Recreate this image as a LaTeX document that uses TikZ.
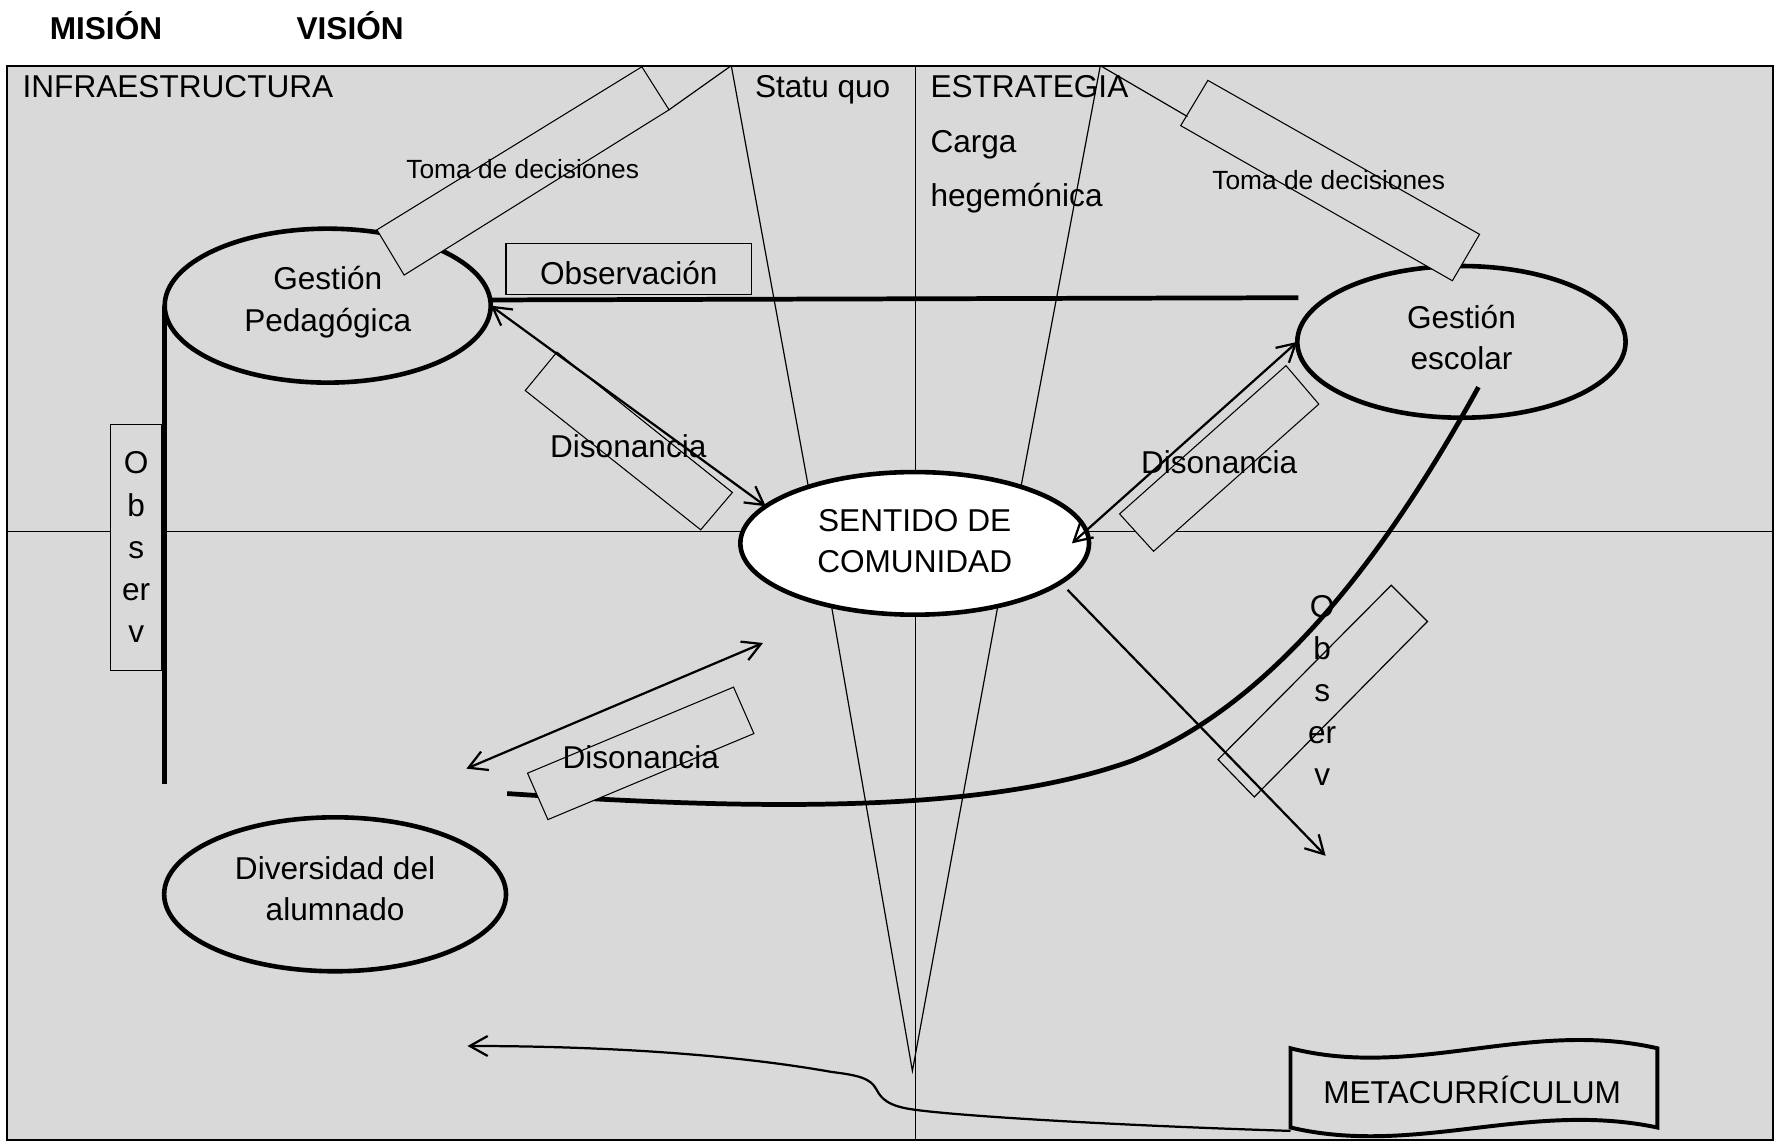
\documentclass[tikz,border=0pt]{standalone}
\usepackage{fontspec}
\setmainfont{Liberation Sans}
\usetikzlibrary{arrows.meta,shapes.geometric}
\definecolor{bgray}{RGB}{217,217,217}
\begin{document}
\begin{tikzpicture}[x=0.43pt,y=-0.43pt,
  every node/.style={inner sep=0pt, outer sep=0pt},
  txt/.style={font=\fontsize{12}{16}\selectfont},
  small/.style={font=\fontsize{10}{12}\selectfont},
  oval/.style={ellipse, draw, line width=1.75pt, fill=bgray, align=center, font=\fontsize{12}{15.8}\selectfont},
  thinbox/.style={draw, line width=0.4pt, fill=bgray},
  thinln/.style={line width=0.45pt},
  thickln/.style={line width=1.8pt},
  arr/.style={line width=0.85pt, -{Straight Barb[length=6.8pt,width=7.6pt]}},
  darr/.style={line width=0.85pt, {Straight Barb[length=6.8pt,width=7.6pt]}-{Straight Barb[length=6.8pt,width=7.6pt]}},
]
\useasboundingbox (0,0) rectangle (1568,1011.4);

% frame and quadrants
\draw[fill=bgray, line width=0.8pt] (6,58) rectangle (1566,1007);
\draw[thinln] (808.5,58) -- (808.5,1007);
\draw[thinln] (6,469.5) -- (1566,469.5);

% header
\node[anchor=base west, font=\bfseries\fontsize{12}{14}\selectfont] (mision) at (44,35) {MISIÓN};
\node[anchor=base west, font=\bfseries\fontsize{12}{14}\selectfont] (vision) at (262,35) {VISIÓN};

% corner texts
\node[txt, anchor=base west] (infra) at (20,86) {INFRAESTRUCTURA};
\node[txt, anchor=base west] (statu) at (667,86) {Statu quo};
\node[txt, anchor=base west] (estr) at (822,86) {ESTRATEGIA};
\node[txt, anchor=base west] (carga) at (822,135) {Carga};
\node[txt, anchor=base west] (hege) at (822,182) {hegemónica};

% ellipses
\node[oval, text depth=5.1pt, minimum width=288*0.43pt, minimum height=136*0.43pt] (gped) at (289.5,270) {Gestión\\Pedagógica};
\node[oval, text depth=3.4pt, minimum width=290*0.43pt, minimum height=134*0.43pt] (gesc) at (1291,302) {Gestión\\escolar};
\node[oval, text depth=1.7pt, fill=white, minimum width=308*0.43pt, minimum height=126*0.43pt] (sent) at (808,480) {SENTIDO DE\\COMUNIDAD};
\node[oval, text depth=4.3pt, minimum width=302*0.43pt, minimum height=136*0.43pt] (div) at (296,790) {Diversidad del\\alumnado};

% funnel lines
\coordinate (sq) at (646,58);
\coordinate (es) at (972,58);
\coordinate (apex) at (806,946);
\draw[thinln] (sq) -- (sent.152);
\draw[thinln] (es) -- (sent.28);
\draw[thinln] (sent.217) -- (apex) -- (sent.323);

% thick curve from Gestion escolar (under the Disonancia box)
\coordinate (cS) at (1306,342);
\coordinate (cE) at (448,701);
\draw[thickln] (cS) .. controls (1230,480) and (1130,620) .. (1000,672) .. controls (880,715) and (700,718) .. (cE);

% rotated boxes
\draw[thinbox] (333,203) -- (357,243) -- (591,97) -- (567,59) -- cycle;
\draw[thinln] (591,97) -- (sq);
\draw[thinbox] (1067,71) -- (1043,111) -- (1283,248) -- (1307,207) -- cycle;
\draw[thinln] (es) -- (1049,103);
\draw[thinbox] (492,311) -- (464,345) -- (619,468) -- (647,435) -- cycle;
\draw[thinbox] (1136,323) -- (1165,357) -- (1019,487) -- (989,454) -- cycle;
\draw[thinbox] (466,683) -- (484,724) -- (666,648) -- (648,607) -- cycle;
\draw[thinln] (1229,517) -- (1261,549) -- (1108,704) -- (1076,671) -- cycle;

% Observacion box
\node[thinbox, minimum width=217*0.43pt, minimum height=45*0.43pt] (obsbox) at (555.5,237.5) {};
\node[txt, anchor=base] (obstxt) at (555.5,251) {Observación};

% left Observ box
\node[thinbox, minimum width=45*0.43pt, minimum height=217.4*0.43pt, align=center, font=\fontsize{12}{16}\selectfont] (obsL) at (120.3,483.3) {O\\b\\s\\er\\v};

% labels
\node[small, anchor=base west] (td1) at (359,158) {Toma de decisiones};
\node[small, anchor=base west] (td2) at (1071,167) {Toma de decisiones};
\node[txt, anchor=base] (dis1) at (555,404) {Disonancia};
\node[txt, anchor=base] (dis2) at (1077,418) {Disonancia};
\node[txt, anchor=base] (dis3) at (566,679) {Disonancia};
\node[txt, align=center] (obsR) at (1168,610) {O\\b\\s\\er\\v};

% thick lines
\coordinate (obsEnd) at (1147,263);
\draw[thickln] (obsEnd) -- (gped.2);
\coordinate (vlb) at (146,693);
\draw[thickln] (gped.west) -- (gped.west |- vlb);

% arrows
\draw[darr] (gped.east) -- (sent.166);
\draw[darr] ([xshift=-6.5pt]sent.east) -- (gesc.west);
\coordinate (a3s) at (943,521);
\coordinate (a3e) at (1171,756);
\draw[arr] (a3s) -- (a3e);
\coordinate (d3a) at (412,679);
\coordinate (d3b) at (674,568);
\draw[darr] (d3a) -- (d3b);

% METACURRICULUM banner
\draw[line width=1.5pt, fill=bgray] (1140,926) .. controls (1250,954) and (1350,900) .. (1464,926) -- (1464,996) .. controls (1350,972) and (1250,1022) .. (1140,996) -- cycle;
\node[txt, anchor=base] (meta) at (1300.5,975) {METACURRÍCULUM};
\coordinate (metaBL) at (1140,999);
\coordinate (bArr) at (413,924);
\draw[arr] (metaBL) .. controls (980,994) and (830,985) .. (800,979) .. controls (780,975) and (777,967) .. (774,962) .. controls (769,953) and (760,950) .. (735,947) .. controls (640,930) and (520,924) .. (bArr);
\end{tikzpicture}
\end{document}
